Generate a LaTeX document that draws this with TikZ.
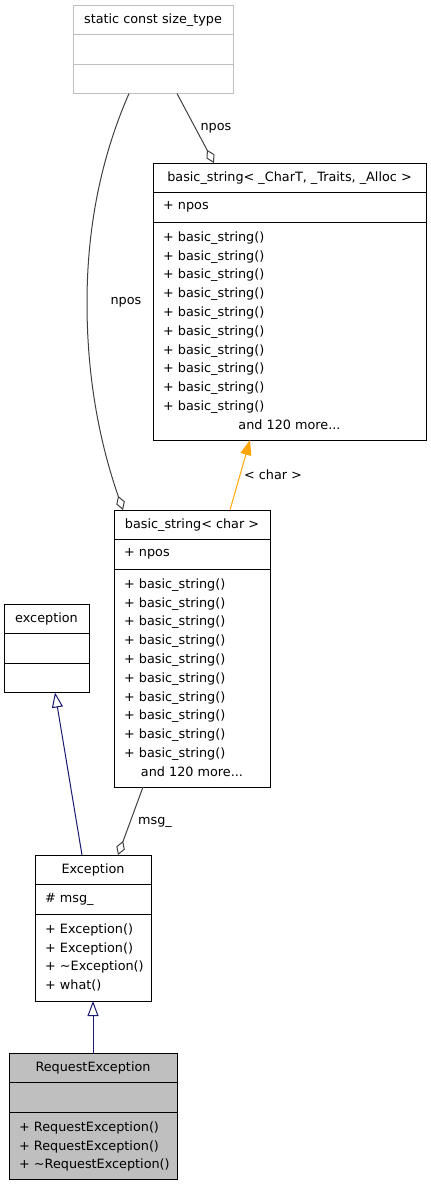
\documentclass[tikz,border=0pt]{standalone}
\usepackage{fontspec}
\setmainfont{DejaVu Sans}
\usetikzlibrary{arrows.meta,positioning,calc}
\definecolor{edgegrey}{RGB}{64,64,64}
\definecolor{boxgrey}{RGB}{191,191,191}
\definecolor{inhblue}{RGB}{25,25,112}
\definecolor{tmplorange}{RGB}{255,165,0}

\tikzset{
  part/.style={draw=black, line width=0.9pt, fill=white, inner sep=0pt,
    outer sep=0pt, minimum height=29.5pt},
  members/.style={anchor=north west, inner sep=0pt, align=left},
  attr/.style={anchor=west, inner sep=0pt},
  elabel/.style={inner sep=0pt},
  aggr/.style={draw=edgegrey, line width=1pt,
    -{Diamond[open,length=15pt,width=9pt]}},
  inherit/.style={draw=inhblue, line width=1pt,
    -{Triangle[open,length=15pt,width=11pt]}},
  instance/.style={draw=tmplorange, line width=1pt,
    -{Triangle[length=15pt,width=11pt]}}
}

\begin{document}
\begin{tikzpicture}[x=1pt, y=-1pt, font=\fontsize{12.8}{18.8}\selectfont,
    node distance=0pt]
  \useasboundingbox (0,0) rectangle (431,1187);

  % static const size_type
  \node[part, draw=boxgrey, minimum width=160pt, anchor=north] (sztT) at (153,5)
    {static const size\_type};
  \node[part, draw=boxgrey, minimum width=160pt, below=of sztT] (sztA) {};
  \node[part, draw=boxgrey, minimum width=160pt, below=of sztA] (sztM) {};

  % basic_string< _CharT, _Traits, _Alloc >
  \node[part, minimum width=273pt, anchor=north] (bsgT) at (289.5,163)
    {basic\_string< \_CharT, \_Traits, \_Alloc >};
  \node[part, minimum width=273pt, below=of bsgT] (bsgA) {};
  \node[part, minimum width=273pt, minimum height=218pt, below=of bsgA] (bsgM) {};
  \node[attr] (bsgNpos) at ($(bsgA.west)+(10,0)$) {+ npos};
  \node[members] (bsgList) at ($(bsgM.north west)+(10,9.3)$)
    {+ basic\_string()\\+ basic\_string()\\+ basic\_string()\\+ basic\_string()\\
     + basic\_string()\\+ basic\_string()\\+ basic\_string()\\+ basic\_string()\\
     + basic\_string()\\+ basic\_string()};
  \node[elabel] (bsgMore) at ($(bsgM.south)+(0,-15)$) {and 120 more...};

  % basic_string< char >
  \node[part, minimum width=156pt, anchor=north] (bsgcT) at (192,510)
    {basic\_string< char >};
  \node[part, minimum width=156pt, below=of bsgcT] (bsgcA) {};
  \node[part, minimum width=156pt, minimum height=218pt, below=of bsgcA] (bsgcM) {};
  \node[attr] (bsgcNpos) at ($(bsgcA.west)+(10,0)$) {+ npos};
  \node[members] (bsgcList) at ($(bsgcM.north west)+(10,9.3)$)
    {+ basic\_string()\\+ basic\_string()\\+ basic\_string()\\+ basic\_string()\\
     + basic\_string()\\+ basic\_string()\\+ basic\_string()\\+ basic\_string()\\
     + basic\_string()\\+ basic\_string()};
  \node[elabel] (bsgcMore) at ($(bsgcM.south)+(0,-15)$) {and 120 more...};

  % exception
  \node[part, minimum width=85pt, anchor=north] (stdexT) at (46.5,604) {exception};
  \node[part, minimum width=85pt, below=of stdexT] (stdexA) {};
  \node[part, minimum width=85pt, below=of stdexA] (stdexM) {};

  % Exception
  \node[part, minimum width=116pt, anchor=north] (excT) at (93,855) {Exception};
  \node[part, minimum width=116pt, below=of excT] (excA) {};
  \node[part, minimum width=116pt, minimum height=87pt, below=of excA] (excM) {};
  \node[attr] (excMsg) at ($(excA.west)+(10,0)$) {\# msg\_};
  \node[members] (excList) at ($(excM.north west)+(10,9.3)$)
    {+ Exception()\\+ Exception()\\+ \textasciitilde Exception()\\+ what()};

  % RequestException
  \node[part, fill=boxgrey, minimum width=168pt, anchor=north] (reqT) at (93,1053)
    {RequestException};
  \node[part, fill=boxgrey, minimum width=168pt, below=of reqT] (reqA) {};
  \node[part, fill=boxgrey, minimum width=168pt, minimum height=67pt,
    below=of reqA] (reqM) {};
  \node[members] (reqList) at ($(reqM.north west)+(10,9.3)$)
    {+ RequestException()\\+ RequestException()\\+ \textasciitilde RequestException()};

  % connectors
  \draw[aggr] ($(sztM.south west)+(104,0)$) -- ($(bsgT.north west)+(61,0)$);
  \node[elabel] (nposA) at (216,128) {npos};
  \draw[aggr] ($(sztM.south west)+(56,0)$) .. controls (100,160) and (87,230)
    .. (87,303) .. controls (87,390) and (104,455) .. ($(bsgcT.north west)+(9,0)$);
  \node[elabel] (nposB) at (126,302) {npos};
  \draw[instance] ($(bsgcT.north west)+(116,0)$) -- ($(bsgM.south west)+(97,0)$);
  \node[elabel] (charLbl) at (273,475) {< char >};
  \draw[aggr] ($(bsgcM.south west)+(29,0)$) -- ($(excT.north west)+(83,0)$);
  \node[elabel] (msgLbl) at (155,822) {msg\_};
  \draw[inherit] ($(excT.north west)+(47,0)$) -- ($(stdexM.south west)+(51,0)$);
  \draw[inherit] (reqT.north) -- (excM.south);
\end{tikzpicture}
\end{document}
